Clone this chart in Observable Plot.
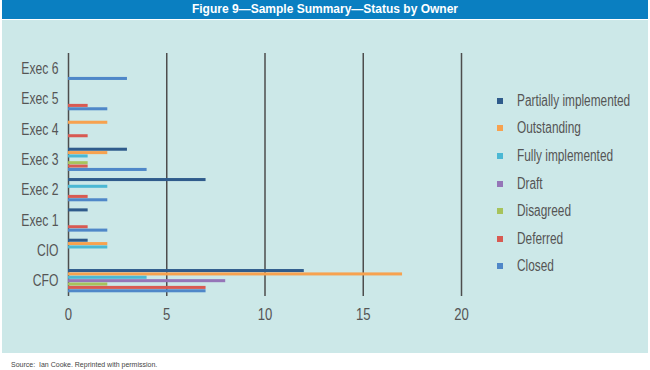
<!DOCTYPE html>
<html><head><meta charset="utf-8">
<script src="https://cdn.jsdelivr.net/npm/d3@7"></script>
<script src="https://cdn.jsdelivr.net/npm/@observablehq/plot@0.6"></script>
<style>
body{margin:0;background:#fff;}
#wrap{position:relative;width:650px;height:370px;overflow:hidden;}
#title{position:absolute;left:2px;top:0;width:646px;height:19px;background:#0a7fc1;color:#fff;font:bold 12px 'Liberation Sans',Arial,sans-serif;text-align:center;line-height:19px;}
#panel{position:absolute;left:2px;top:20px;width:646px;height:333px;background:#cce8e8;}
#chart{position:absolute;left:0;top:0;}
#legend{position:absolute;left:495px;top:67px;font-family:'Liberation Sans',Arial,sans-serif;font-size:16px;color:#555;}
.item{display:flex;align-items:center;height:27.6px;white-space:nowrap;}
.sw{width:6px;height:6px;margin-right:14px;flex:none;}
.lbl{display:inline-block;transform:scaleX(0.74);transform-origin:0 50%;}
#caption{position:absolute;left:11px;top:361px;font:7px 'Liberation Sans',Arial,sans-serif;color:#444;}
</style>
</head><body>
<div id="wrap">
  <div id="title">Figure 9—Sample Summary—Status by Owner</div>
  <div id="panel"><div id="chart"></div><div id="legend"></div></div>
  <div id="caption">Source:&nbsp; Ian Cooke. Reprinted with permission.</div>
</div>
<script>
const owners = ["Exec 6","Exec 5","Exec 4","Exec 3","Exec 2","Exec 1","CIO","CFO"];
const statuses = ["Partially implemented","Outstanding","Fully implemented","Draft","Disagreed","Deferred","Closed"];
const colors = ["#2f5b8b","#f7a24f","#4bb8d4","#9575b8","#a7c35b","#d85a52","#4f87c8"];
const partiallyImplemented = [0,0,0,3,7,1,1,12];
const outstanding          = [0,0,2,2,0,0,2,17];
const fullyImplemented     = [0,0,0,1,2,0,2,4];
const draft                = [0,0,0,0,0,0,0,8];
const disagreed            = [0,0,0,1,0,0,0,2];
const deferred             = [0,1,1,1,1,1,0,7];
const closed               = [3,2,0,4,2,2,0,7];
const xTicks = [0,5,10,15,20];

const series = [partiallyImplemented,outstanding,fullyImplemented,draft,disagreed,deferred,closed];
const rows = [];
statuses.forEach((s,i)=>{
  owners.forEach((o,j)=>{
    const v = series[i][j];
    if (v > 0) rows.push({owner:o, status:s, value:v, key:o+"|"+s});
  });
});
// band domain: a spacer slot before and after each owner's group of seven bars
const yDomain = [];
owners.forEach(o=>{
  yDomain.push(o+"|_before");
  statuses.forEach(s=>yDomain.push(o+"|"+s));
  yDomain.push(o+"|_after");
});

const chart = Plot.plot({
  width: 480,
  height: 320,
  marginLeft: 66,
  marginRight: 21,
  marginTop: 33,
  marginBottom: 44,
  style: {background:"transparent", color:"#555", fontFamily:"'Liberation Sans',Arial,sans-serif", fontSize:"16px"},
  x: {domain:[0,20], ticks: xTicks, tickSize:0, tickPadding:12, label:null, fontSize:15},
  y: {domain:yDomain, padding:0.1, round:false, ticks: owners.map(o=>o+"|Draft"), tickFormat:d=>d.split("|")[0], tickSize:0, tickPadding:10, label:null, fontSize:16},
  color: {domain:statuses, range:colors},
  marks: [
    Plot.ruleX(xTicks, {stroke:"#4d4d4d", strokeWidth:1.5}),
    Plot.barX(rows, {x:"value", y:"key", fill:"status"})
  ]
});
// condense axis label glyphs horizontally (narrow-font look)
const condense = (sel, k) => chart.querySelectorAll(sel).forEach(t=>{
  t.setAttribute("transform", (t.getAttribute("transform")||"") + ` scale(${k},1)`);
});
condense('g[aria-label="y-axis tick label"] text', 0.76);
condense('g[aria-label="x-axis tick label"] text', 0.82);
document.getElementById("chart").appendChild(chart);

const leg = document.getElementById("legend");
statuses.forEach((s,i)=>{
  const it = document.createElement("div"); it.className="item";
  const sw = document.createElement("div"); sw.className="sw"; sw.style.background = colors[i];
  const t = document.createElement("span"); t.className="lbl"; t.textContent = s;
  it.appendChild(sw); it.appendChild(t); leg.appendChild(it);
});
</script>
</body></html>
